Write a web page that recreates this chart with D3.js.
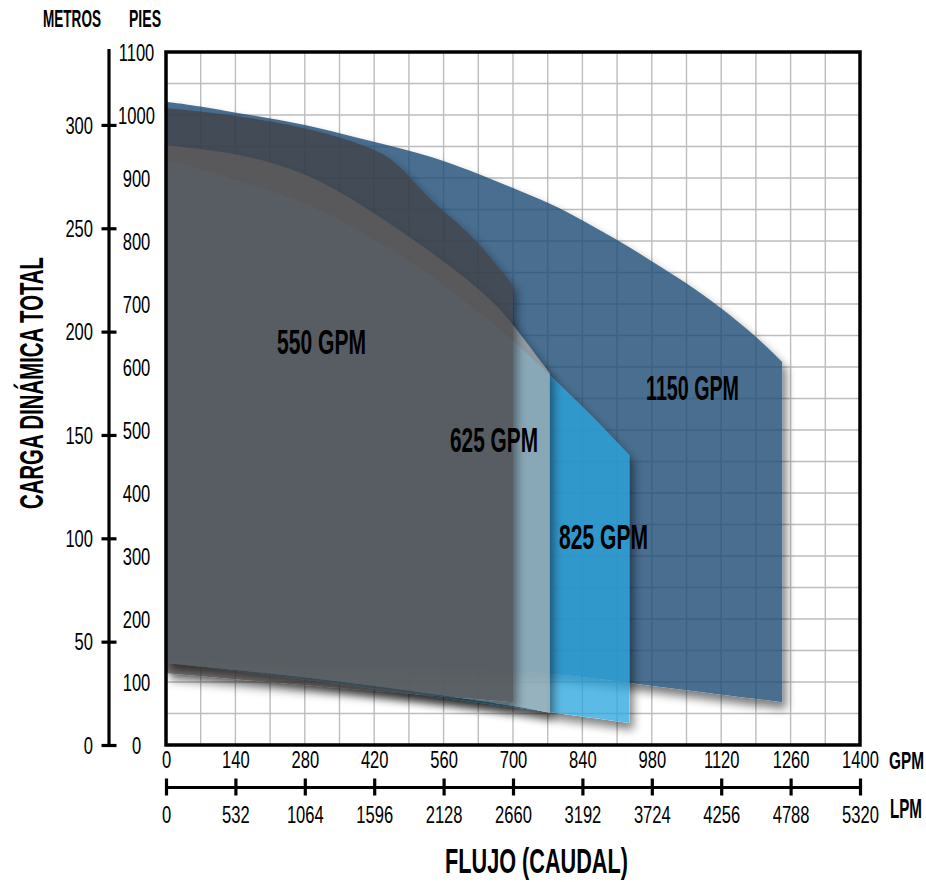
<!DOCTYPE html>
<html>
<head>
<meta charset="utf-8">
<script src="https://cdn.jsdelivr.net/npm/d3@7"></script>
<style>
  html, body { margin: 0; padding: 0; background: #ffffff; }
  svg { display: block; }
</style>
</head>
<body>
<script>
// ---------- DATA ----------
const GPM_TICKS = [0, 140, 280, 420, 560, 700, 840, 980, 1120, 1260, 1400];
const LPM_TICKS = [0, 532, 1064, 1596, 2128, 2660, 3192, 3724, 4256, 4788, 5320];
const PIES_TICKS = [0, 100, 200, 300, 400, 500, 600, 700, 800, 900, 1000, 1100];
const METROS_TICKS = [0, 50, 100, 150, 200, 250, 300];

// pump envelopes: [GPM, feet]
const top1150 = [[0,1021],[69,1014],[143,1003],[210,995],[284,984],[351,971],[426,956],[498,942],[559,928],[633,906],[700,884],[775,860],[841,833],[910,802],[976,770],[1051,733],[1118,695],[1192,648],[1243,608]];
const bottom1150 = [[0,133],[400,128],[774,116],[935,98],[1100,82],[1243,68]];
const top825 = [[0,929],[287,865],[420,802],[562,733],[700,643],[774,587],[853,528],[935,460]];
const bottom825 = [[0,131],[400,92],[774,52],[935,35]];
const top625 = [[0,952],[143,940],[284,910],[418,846],[559,770],[660,705],[700,668],[774,590]];
const bottom625 = [[0,130],[270,110],[535,82],[700,63],[774,51]];
const top550 = [[0,1011],[143,1000],[284,979],[351,965],[426,944],[458,929],[498,897],[539,860],[607,817],[660,770],[700,730]];
const bottom550 = [[0,114],[350,90],[700,68]];

const SERIES_NAMES = ["1150 GPM", "825 GPM", "625 GPM", "550 GPM"];

// ---------- SETUP ----------
const W = 926, H = 882;
const FONT = "'Liberation Sans', Arial, sans-serif";
const svg = d3.select("body").append("svg").attr("width", W).attr("height", H);

const x = d3.scaleLinear().domain([0, 1400]).range([166, 860]);
const xL = d3.scaleLinear().domain([0, 5320]).range([166, 860]);
const y = d3.scaleLinear().domain([0, 1100]).range([745, 52]);
const yM = d3.scaleLinear().domain([0, 1100 * 0.3048]).range([745, 52]);

const defs = svg.append("defs");
defs.append("clipPath").attr("id", "plotClip").append("rect")
  .attr("x", x(0)).attr("y", y(1100)).attr("width", x(1400) - x(0)).attr("height", y(0) - y(1100));

const f = defs.append("filter").attr("id", "shadow")
  .attr("x", "-10%").attr("y", "-10%").attr("width", "130%").attr("height", "130%");
f.append("feGaussianBlur").attr("in", "SourceAlpha").attr("stdDeviation", 5).attr("result", "b");
f.append("feOffset").attr("in", "b").attr("dx", 4).attr("dy", 7).attr("result", "o");
f.append("feComposite").attr("in", "o").attr("in2", "SourceAlpha").attr("operator", "out").attr("result", "oo");
f.append("feFlood").attr("flood-color", "#000").attr("flood-opacity", 0.65).attr("result", "fl");
f.append("feComposite").attr("in", "fl").attr("in2", "oo").attr("operator", "in").attr("result", "s");
const fm = f.append("feMerge");
fm.append("feMergeNode").attr("in", "s");
fm.append("feMergeNode").attr("in", "SourceGraphic");

// ---------- GRID ----------
const grid = svg.append("g").attr("stroke", "#bdbdbd").attr("stroke-width", 1.4);
d3.range(70, 1400, 70).forEach(v => {
  grid.append("line").attr("x1", x(v)).attr("x2", x(v)).attr("y1", y(0)).attr("y2", y(1100));
});
d3.range(50, 1100, 50).forEach(v => {
  grid.append("line").attr("x1", x(0)).attr("x2", x(1400)).attr("y1", y(v)).attr("y2", y(v));
});

// ---------- REGIONS ----------
const line = d3.line().x(d => x(d[0])).y(d => y(d[1])).curve(d3.curveBasis);
function regionPath(top, bottom) {
  const t = line(top);
  const b = line(bottom.slice().reverse());
  return t + "L" + b.slice(1) + "Z";
}
const regions = [
  { top: top1150, bottom: bottom1150, color: "rgb(29,76,116)", op: 0.8 },
  { top: top825, bottom: bottom825, color: "rgb(44,166,223)", op: 0.76 },
  { top: top625, bottom: bottom625, color: "rgb(175,175,175)", op: 0.7 },
  { top: top550, bottom: bottom550, color: "rgb(64,59,59)", op: 0.68 }
];
const plot = svg.append("g").attr("clip-path", "url(#plotClip)");
regions.forEach(r => {
  plot.append("path")
    .attr("d", regionPath(r.top, r.bottom))
    .attr("fill", r.color)
    .attr("opacity", r.op)
    .attr("filter", "url(#shadow)");
});

// ---------- FRAME ----------
svg.append("rect")
  .attr("x", x(0)).attr("y", y(1100)).attr("width", x(1400) - x(0)).attr("height", y(0) - y(1100))
  .attr("fill", "none").attr("stroke", "#000").attr("stroke-width", 3.5);

// ---------- TEXT HELPER (condensed by horizontal scaling) ----------
function label(txt, cx, baseline, size, len, opts = {}) {
  const g = svg.append("g");
  const t = g.append("text")
    .attr("x", 0).attr("y", 0)
    .attr("font-family", FONT).attr("font-size", size)
    .attr("font-weight", opts.weight || "bold")
    .attr("text-anchor", opts.anchor || "middle")
    .attr("fill", "#000")
    .text(txt);
  const nat = t.node().getComputedTextLength();
  const s = len / nat;
  const rot = opts.rotate ? ` rotate(${opts.rotate})` : "";
  g.attr("transform", `translate(${cx},${baseline})${rot} scale(${s},1)`);
  return t;
}

// series labels
label(SERIES_NAMES[3], 321.5, 353.5, 36, 89);
label(SERIES_NAMES[2], 494, 451.5, 36, 88);
label(SERIES_NAMES[1], 603.5, 548.5, 36, 89);
label(SERIES_NAMES[0], 692.5, 400, 35, 93);

// ---------- AXES ----------
const SX = 0.72;
// metros axis
const gM = svg.append("g").attr("transform", "translate(109,0)")
  .call(d3.axisLeft(yM).tickValues(METROS_TICKS).tickSize(7).tickSizeOuter(0).tickFormat(d3.format("d")));
gM.attr("font-family", FONT).attr("font-size", 23);
gM.select(".domain").attr("d", "M0,49V747").attr("stroke-width", 3.2);
gM.selectAll(".tick line").attr("x1", 7.5).attr("x2", -7.5).attr("stroke-width", 3.2);
gM.selectAll(".tick text").attr("x", -16 / SX).attr("dy", "0.36em")
  .attr("transform", `scale(${SX},1)`).attr("text-anchor", "end").attr("fill", "#000");

// pies axis (labels only)
const gP = svg.append("g").attr("transform", "translate(136.5,0)")
  .call(d3.axisLeft(y).tickValues(PIES_TICKS).tickSize(0).tickFormat(d3.format("d")));
gP.attr("font-family", FONT).attr("font-size", 23);
gP.select(".domain").remove();
gP.selectAll(".tick text").attr("x", 0).attr("dy", "0.36em")
  .attr("transform", `scale(${SX},1)`).attr("text-anchor", "middle").attr("fill", "#000");

// GPM axis (labels only)
const gG = svg.append("g").attr("transform", `translate(0,${y(0)})`)
  .call(d3.axisBottom(x).tickValues(GPM_TICKS).tickSize(0).tickFormat(d3.format("d")));
gG.attr("font-family", FONT).attr("font-size", 23);
gG.select(".domain").remove();
gG.selectAll(".tick text").attr("y", 23.5).attr("dy", 0)
  .attr("transform", `scale(${SX},1)`).attr("text-anchor", "middle").attr("fill", "#000");

// LPM axis
const gL = svg.append("g").attr("transform", "translate(0,787)")
  .call(d3.axisBottom(xL).tickValues(LPM_TICKS).tickSize(8).tickSizeOuter(0).tickFormat(d3.format("d")));
gL.attr("font-family", FONT).attr("font-size", 23);
gL.select(".domain").attr("stroke-width", 3.2);
gL.selectAll(".tick line").attr("y1", -8.5).attr("y2", 8.5).attr("stroke-width", 3.2);
gL.selectAll(".tick text").attr("y", 36.5).attr("dy", 0)
  .attr("transform", `scale(${SX},1)`).attr("text-anchor", "middle").attr("fill", "#000");

// ---------- TITLES ----------
label("METROS", 72, 27, 23, 58);
label("PIES", 145, 27, 23, 32);
label("GPM", 906.5, 769, 24, 35);
label("LPM", 906, 818, 27, 32);
label("FLUJO (CAUDAL)", 536.5, 873, 35, 183);
label("CARGA DINÁMICA TOTAL", 43, 383, 33, 252, { rotate: -90 });
</script>
</body>
</html>
